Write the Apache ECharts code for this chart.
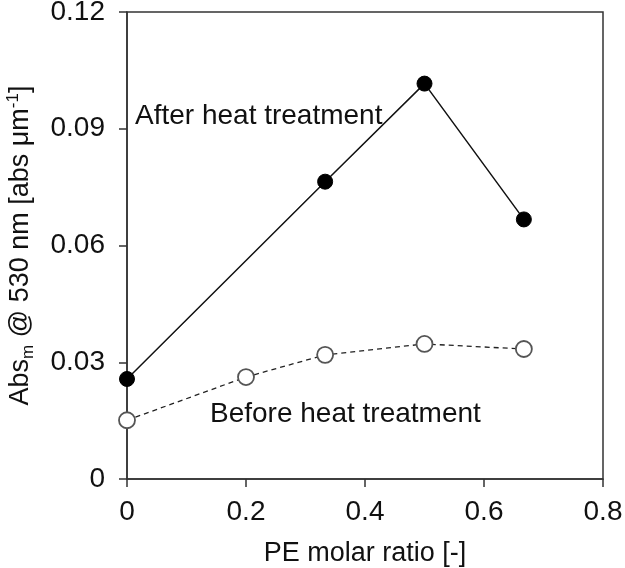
<!DOCTYPE html>
<html>
<head>
<meta charset="utf-8">
<script src="https://cdn.jsdelivr.net/npm/echarts@6/dist/echarts.min.js"></script>
<style>html,body{margin:0;padding:0;background:#fff}#c{width:625px;height:568px}</style>
</head>
<body>
<div id="c"></div>
<script>
const peRatio = [0, 0.2, 0.333, 0.5, 0.667];
const afterX = [0, 0.333, 0.5, 0.667];
const afterValues = [0.0257, 0.0764, 0.1016, 0.0667];
const beforeX = [0, 0.2, 0.333, 0.5, 0.667];
const beforeValues = [0.0151, 0.0262, 0.0319, 0.0347, 0.0334];
const xTicks = [0, 0.2, 0.4, 0.6, 0.8];
const yTicks = [0, 0.03, 0.06, 0.09, 0.12];

const font = 'Liberation Sans, Arial, sans-serif';
const chart = echarts.init(document.getElementById('c'), null, {renderer: 'canvas'});
const axisCol = '#333';
chart.setOption({
  animation: false,
  backgroundColor: '#fff',
  grid: {left: 127, right: 22, top: 12, bottom: 89, containLabel: false, outerBoundsMode: 'none',
    show: true, borderColor: axisCol, borderWidth: 1.5, backgroundColor: 'transparent'},
  xAxis: {
    type: 'value', min: 0, max: 0.8, interval: 0.2,
    name: 'PE molar ratio [-]', nameLocation: 'middle', nameGap: 61,
    nameTextStyle: {fontFamily: font, fontSize: 27, color: '#111'},
    axisLine: {lineStyle: {color: axisCol, width: 1.5}},
    axisTick: {inside: false, length: 8, lineStyle: {color: axisCol, width: 1.5}},
    axisLabel: {fontFamily: font, fontSize: 28, color: '#111', margin: 19,
      formatter: v => String(parseFloat(v.toFixed(2)))},
    splitLine: {show: false}
  },
  yAxis: {
    type: 'value', min: 0, max: 0.12, interval: 0.03,
    name: '{a|Abs}{sub|m}{a| @ 530 nm [abs μm}{sup|-1}{a|]}',
    nameLocation: 'middle', nameGap: 90, nameRotate: 90,
    nameTextStyle: {fontFamily: font, fontSize: 27, color: '#111',
      rich: {
        a: {fontFamily: font, fontSize: 27, color: '#111', lineHeight: 32, verticalAlign: 'middle'},
        sub: {fontFamily: font, fontSize: 17, color: '#111', lineHeight: 32, verticalAlign: 'bottom', padding: [12, 0, 0, 0]},
        sup: {fontFamily: font, fontSize: 17, color: '#111', lineHeight: 32, verticalAlign: 'top', padding: [0, 0, 12, 0]}
      }},
    axisLine: {lineStyle: {color: axisCol, width: 1.5}},
    axisTick: {inside: false, length: 8, lineStyle: {color: axisCol, width: 1.5}},
    axisLabel: {fontFamily: font, fontSize: 28, color: '#111', margin: 22,
      formatter: v => String(parseFloat(v.toFixed(2)))},
    splitLine: {show: false}
  },
  series: [
    {
      name: 'After heat treatment', type: 'line',
      data: afterX.map((x, i) => [x, afterValues[i]]),
      symbol: 'circle', symbolSize: 15,
      lineStyle: {color: '#111', width: 1.5, type: 'solid'},
      itemStyle: {color: '#000', borderColor: '#000', borderWidth: 1},
      z: 3
    },
    {
      name: 'Before heat treatment', type: 'line',
      data: beforeX.map((x, i) => [x, beforeValues[i]]),
      symbol: 'circle', symbolSize: 16,
      lineStyle: {color: '#222', width: 1.3, type: [5, 4]},
      itemStyle: {color: '#fff', borderColor: '#555', borderWidth: 1.8},
      z: 3
    }
  ],
  graphic: [
    {type: 'text', left: 135, top: 102, style: {text: 'After heat treatment', font: '28px ' + font, fill: '#111'}},
    {type: 'text', left: 210, top: 400, style: {text: 'Before heat treatment', font: '28px ' + font, fill: '#111'}}
  ]
});
</script>
</body>
</html>
